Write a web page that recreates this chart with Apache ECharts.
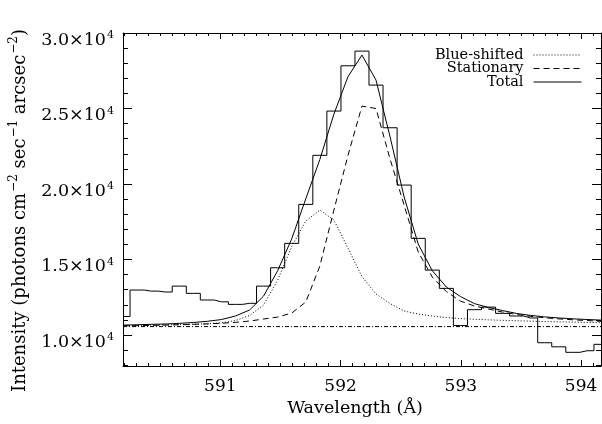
<!DOCTYPE html>
<html>
<head>
<meta charset="utf-8">
<script src="https://cdn.jsdelivr.net/npm/echarts@6/dist/echarts.min.js"></script>
<style>
  html, body { margin: 0; padding: 0; background: #fff; }
  #main { width: 602px; height: 424px; }
</style>
</head>
<body>
<div id="main"></div>
<script>
// bin centres (Angstrom)
var wavelength = [590.191, 590.308, 590.425, 590.542, 590.659, 590.776, 590.892, 591.009,
  591.126, 591.243, 591.360, 591.477, 591.594, 591.711, 591.828, 591.945, 592.062, 592.178,
  592.295, 592.412, 592.529, 592.646, 592.763, 592.880, 592.997, 593.114, 593.231, 593.348,
  593.464, 593.581, 593.698, 593.815, 593.932, 594.049, 594.166];
// observed profile (histogram)
var observed = [11225, 12980, 12910, 12850, 13240, 12760, 12320, 12200, 12030, 12100, 13240,
  14455, 16070, 18650, 21900, 24830, 27830, 28800, 26550, 23725, 19930, 16400, 14300, 13090,
  10630, 11680, 11850, 11435, 11260, 11130, 9490, 9220, 8855, 8960, 9385];
var blueShifted = [10630, 10640, 10660, 10675, 10695, 10715, 10740, 10810, 10960, 11290, 11985,
  13640, 15860, 17550, 18275, 17610, 15760, 13870, 12715, 12085, 11590, 11390, 11260, 11160,
  11090, 11045, 11005, 10975, 10945, 10920, 10890, 10875, 10855, 10835, 10815];
var stationary = [10610, 10620, 10640, 10660, 10680, 10710, 10740, 10780, 10840, 10925, 11060,
  11190, 11455, 12185, 14570, 18275, 21900, 25160, 25000, 21650, 18600, 15500, 13840, 12880,
  12250, 11920, 11720, 11520, 11360, 11240, 11145, 11070, 11010, 10960, 10910];
var total = [10660, 10680, 10710, 10730, 10775, 10830, 10910, 11025, 11260, 11655, 12580,
  14260, 16370, 19020, 21625, 24630, 27110, 28540, 26880, 23120, 19140, 16025, 14260, 13180,
  12550, 12080, 11820, 11620, 11430, 11300, 11200, 11130, 11075, 11030, 10990];
var background = 10560;

var xMajor = [591, 592, 593, 594];
var yMajor = [10000, 15000, 20000, 25000, 30000];
var xMin = 590.191, xMax = 594.166, yMin = 7950, yMax = 30000;

var xMinor = [];
for (var i = 5902; i <= 5941; i++) { if (i % 10) xMinor.push(i / 10); }
var yMinor = [];
for (var j = 8000; j <= 29000; j += 1000) { if (j % 5000) yMinor.push(j); }

function pairs(ys) {
  return wavelength.map(function (x, k) { return [x, ys[k]]; });
}

var font = 'DejaVu Serif';
var black = '#000';

function xAx(pos, ticks, len, labels, line) {
  return {
    type: 'value', position: pos, min: xMin, max: xMax,
    axisLine: { show: line, onZero: false, lineStyle: { color: black, width: 1 } },
    axisTick: { show: true, inside: true, length: len, customValues: ticks, lineStyle: { color: black } },
    axisLabel: labels ? { show: true, customValues: xMajor, color: black, fontFamily: font, fontSize: 17, margin: 12 } : { show: false },
    splitLine: { show: false }
  };
}
function yAx(pos, ticks, len, labels, line) {
  return {
    type: 'value', position: pos, min: yMin, max: yMax,
    axisLine: { show: line, onZero: false, lineStyle: { color: black, width: 1 } },
    axisTick: { show: true, inside: true, length: len, customValues: ticks, lineStyle: { color: black } },
    axisLabel: labels ? {
      show: true, customValues: yMajor, color: black, fontFamily: font, fontSize: 17, margin: 9,
      padding: [13, 0, 0, 0],
      formatter: function (v) { return '{b|' + (v / 10000).toFixed(1) + '×10}{s|4}'; },
      rich: {
        b: { fontFamily: font, fontSize: 17.5, color: black, verticalAlign: 'bottom' },
        s: { fontFamily: font, fontSize: 11, color: black, verticalAlign: 'bottom', padding: [0, 0, 8, 1] }
      }
    } : { show: false },
    splitLine: { show: false }
  };
}

var xAxes = [xAx('bottom', xMajor, 6, true, true), xAx('bottom', xMinor, 3, false, false),
  xAx('top', xMajor, 6, false, true), xAx('top', xMinor, 3, false, false)];
xAxes[0].name = 'Wavelength (Å)';
xAxes[0].nameLocation = 'middle';
xAxes[0].nameGap = 32;
xAxes[0].nameTextStyle = { fontFamily: font, fontSize: 17.5, color: black, padding: [0, 14, 0, 0] };

var yAxes = [yAx('left', yMajor, 9, true, true), yAx('left', yMinor, 5, false, false),
  yAx('right', yMajor, 9, false, true), yAx('right', yMinor, 5, false, false)];
yAxes[0].name = '{t|Intensity (photons cm}{s|−2}{t| sec}{s|−1}{t| arcsec}{s|−2}{t|)}';
yAxes[0].nameLocation = 'middle';
yAxes[0].nameGap = 94;
yAxes[0].nameTextStyle = {
  fontFamily: font, fontSize: 18, color: black, padding: [0, 22, 0, 0],
  rich: {
    t: { fontFamily: font, fontSize: 18, color: black, verticalAlign: 'bottom' },
    s: { fontFamily: font, fontSize: 12, color: black, verticalAlign: 'bottom', padding: [0, 0, 9, 1] }
  }
};

function lineSeries(name, ys, type, extra) {
  var s = {
    name: name, type: 'line', data: pairs(ys), symbol: 'none', smooth: false,
    xAxisIndex: 0, yAxisIndex: 0, silent: true,
    lineStyle: { color: black, width: 1, type: type }, itemStyle: { color: black }
  };
  for (var k in extra) s[k] = extra[k];
  return s;
}

function legendAt(name, top) {
  return {
    data: [name], right: 20, top: top, align: 'right', orient: 'vertical',
    itemWidth: 48, itemHeight: 10, padding: 0, selectedMode: false,
    itemStyle: { opacity: 0 },
    lineStyle: { width: 1 },
    textStyle: { fontFamily: font, fontSize: 14.5, color: black, padding: [0, 5, 0, 0] }
  };
}

var chart = echarts.init(document.getElementById('main'));
chart.setOption({
  animation: false,
  backgroundColor: '#fff',
  grid: { left: 118, right: 1, top: 33, bottom: 58, containLabel: false },
  legend: [legendAt('Blue-shifted', 47.5), legendAt('Stationary', 61), legendAt('Total', 74.5)],
  xAxis: xAxes,
  yAxis: yAxes,
  series: [
    lineSeries('Observed', observed, 'solid', { step: 'middle' }),
    lineSeries('Background', [background, background], [4, 2, 1, 2], {
      data: [[wavelength[0], background], [wavelength[wavelength.length - 1], background]]
    }),
    lineSeries('Blue-shifted', blueShifted, [1, 2]),
    lineSeries('Stationary', stationary, [6, 4]),
    lineSeries('Total', total, 'solid')
  ]
});
</script>
</body>
</html>
